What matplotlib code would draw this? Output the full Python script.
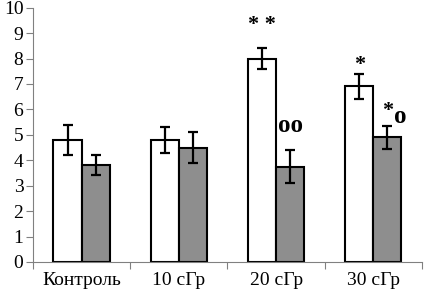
import matplotlib
matplotlib.use("Agg")
import matplotlib.pyplot as plt
import numpy as np

categories = ["Контроль", "10 сГр", "20 сГр", "30 сГр"]
white_vals = [4.8, 4.8, 8.0, 6.9]
white_err = [0.6, 0.5, 0.43, 0.5]
grey_vals = [3.8, 4.5, 3.75, 4.9]
grey_err = [0.4, 0.6, 0.65, 0.45]
# significance marks: (category index, series, text, height)
marks = [(2, 0, "**", 9.3), (2, 1, "oo", 5.35), (3, 0, "*", 7.75), (3, 1, "*o", 5.8)]

plt.rcParams['font.family'] = ['Liberation Serif', 'DejaVu Serif']

fig = plt.figure(figsize=(4.24, 2.94), dpi=100)
ax = fig.add_axes([0.078, 0.109, 0.917, 0.865])

x = np.arange(len(categories))
w = 0.29
ekw = dict(elinewidth=1.6, capthick=1.6)
ax.bar(x - w / 2, white_vals, w, color="white", edgecolor="black", linewidth=1.5,
       yerr=white_err, capsize=3.3, error_kw=ekw, zorder=2)
ax.bar(x + w / 2, grey_vals, w, color="#8e8e8e", edgecolor="black", linewidth=1.5,
       yerr=grey_err, capsize=3.3, error_kw=ekw, zorder=2)

for i, s, txt, h in marks:
    xo = x[i] + (w / 2 if s else -w / 2)
    if txt == "*o":
        ax.text(xo + 0.06, h + 0.15, "*", ha="right", va="center", fontsize=16, fontweight="bold")
        ax.text(xo + 0.07, h - 0.1, "o", ha="left", va="center", fontsize=18, fontweight="bold")
    elif "o" in txt:
        ax.text(xo, h, txt, ha="center", va="center", fontsize=18, fontweight="bold")
    else:
        ax.text(xo, h, " ".join(txt) if len(txt) > 1 else txt, ha="center", va="center",
                fontsize=16, fontweight="bold")

ax.set_xlim(-0.5, 3.5)
ax.set_ylim(0, 10)
ax.set_yticks(range(0, 11))
ax.set_xticks(np.arange(-0.5, 4.0, 1.0))
ax.set_xticklabels([])
ax.set_xticks(x, minor=True)
ax.set_xticklabels(categories, minor=True)
ax.tick_params(axis="x", which="minor", length=0, pad=7, labelsize=14)
ax.tick_params(axis="x", which="major", length=5, direction="out", color="#808080")
ax.tick_params(axis="y", length=5, direction="out", labelsize=14, color="#808080", pad=2)
for sp in ["top", "right"]:
    ax.spines[sp].set_visible(False)
ax.spines["left"].set_color("#808080")
ax.spines["bottom"].set_color("#808080")

fig.savefig("out.png", dpi=100)
